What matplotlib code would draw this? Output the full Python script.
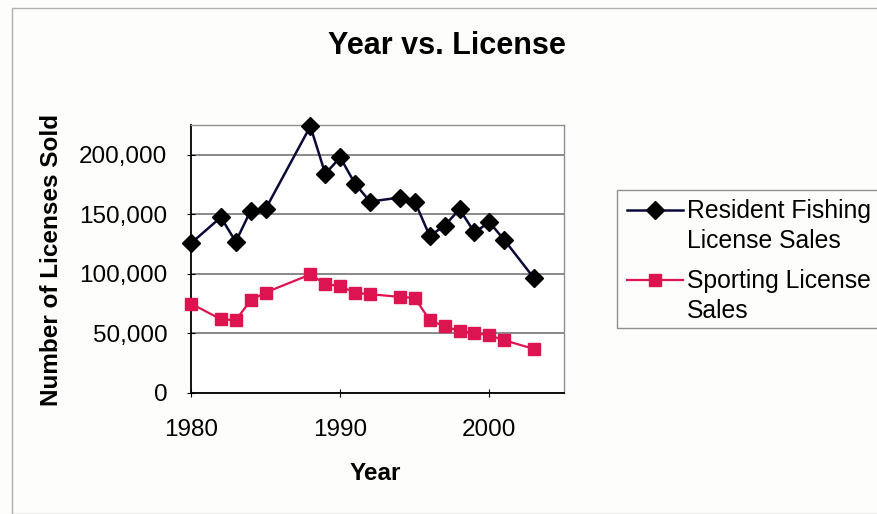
import matplotlib
matplotlib.use("Agg")
import matplotlib.pyplot as plt
from matplotlib.patches import Rectangle
from matplotlib.lines import Line2D
from matplotlib.ticker import FuncFormatter, MultipleLocator

plt.rcParams['font.family'] = ['Liberation Sans', 'DejaVu Sans']

years = [1980, 1982, 1983, 1984, 1985, 1988, 1989, 1990, 1991, 1992,
         1994, 1995, 1996, 1997, 1998, 1999, 2000, 2001, 2003]
resident_fishing = [125500, 147400, 126800, 153000, 154400, 223900, 184000,
                    197700, 175500, 160600, 164000, 160600, 131600, 140400,
                    154100, 134700, 143200, 128300, 96000]
sporting = [74800, 61600, 60800, 77600, 84100, 99300, 91100, 89500, 83800,
            82700, 80400, 79600, 60800, 55700, 51700, 50000, 48100, 43900, 36600]
series_names = ["Resident Fishing\nLicense Sales", "Sporting License\nSales"]
x_ticks = [1980, 1990, 2000]

W, H = 878, 514
fig = plt.figure(figsize=(W / 100, H / 100), dpi=100)
fig.patch.set_facecolor('#fdfdfb')

def fx(px):
    return px / W

def fy(py):
    return 1 - py / H

# chart border
fig.add_artist(Rectangle((fx(12), 0), 1, fy(8), transform=fig.transFigure,
                         fill=False, edgecolor='#b0b0b0', linewidth=1))

ax = fig.add_axes([fx(191), fy(392.5), (564 - 191) / W, (392.5 - 125) / H])
ax.set_facecolor('white')

styles = [
    dict(color='#0a0a3a', linewidth=1.8, marker='D', markersize=9,
         markerfacecolor='black', markeredgecolor='black'),
    dict(color='#dc1450', linewidth=1.6, marker='s', markersize=8.5,
         markerfacecolor='#dc1450', markeredgecolor='#dc1450'),
]

ax.plot(years, resident_fishing, **styles[0], zorder=3, clip_on=False)
ax.plot(years, sporting, **styles[1], zorder=3, clip_on=False)

ax.set_xlim(1980, 2005)
ax.set_ylim(0, 225000)
ax.set_xticks(x_ticks)
ax.yaxis.set_major_locator(MultipleLocator(50000))
ax.yaxis.set_major_formatter(FuncFormatter(lambda v, p: f"{int(v):,}"))
ax.grid(axis='y', color='#6a6a6a', linewidth=1.1)
ax.set_axisbelow(True)

for s in ['left', 'bottom']:
    ax.spines[s].set_color('black')
    ax.spines[s].set_linewidth(1.3)
for s in ['top', 'right']:
    ax.spines[s].set_color('#909090')
    ax.spines[s].set_linewidth(1.0)

ax.tick_params(axis='both', labelsize=17.5, colors='black', length=6,
               direction='inout')
ax.tick_params(axis='x', pad=16)
ax.tick_params(axis='y', pad=14)

fig.text(fx(375), fy(473), 'Year', ha='center', va='center',
         fontsize=17.5, fontweight='bold')
fig.text(fx(52), fy(260), 'Number of Licenses Sold', ha='center', va='center',
         rotation=90, fontsize=17.5, fontweight='bold')

fig.text(fx(447), fy(46), 'Year vs. License', ha='center', va='center',
         fontsize=22, fontweight='bold')

# legend (drawn manually so the key sits on the first text line, as in the original)
fig.add_artist(Rectangle((fx(617), fy(328)), 1, (328 - 190) / H,
                         transform=fig.transFigure, fill=False,
                         edgecolor='#909090', linewidth=1.0))
key_y = [210, 280]
first_baseline = [218, 288]
line_step = 30
for name, st, ky, bl in zip(series_names, styles, key_y, first_baseline):
    fig.add_artist(Line2D([fx(627), fx(683)], [fy(ky), fy(ky)],
                          transform=fig.transFigure, color=st['color'],
                          linewidth=st['linewidth']))
    fig.add_artist(Line2D([fx(655)], [fy(ky)], transform=fig.transFigure,
                          linestyle='none', marker=st['marker'],
                          markersize=st['markersize'],
                          markerfacecolor=st['markerfacecolor'],
                          markeredgecolor=st['markeredgecolor']))
    for i, line in enumerate(name.split('\n')):
        fig.text(fx(687), fy(bl + i * line_step), line, ha='left',
                 va='baseline', fontsize=17.8)

fig.savefig('out.png', dpi=100, facecolor=fig.get_facecolor())
